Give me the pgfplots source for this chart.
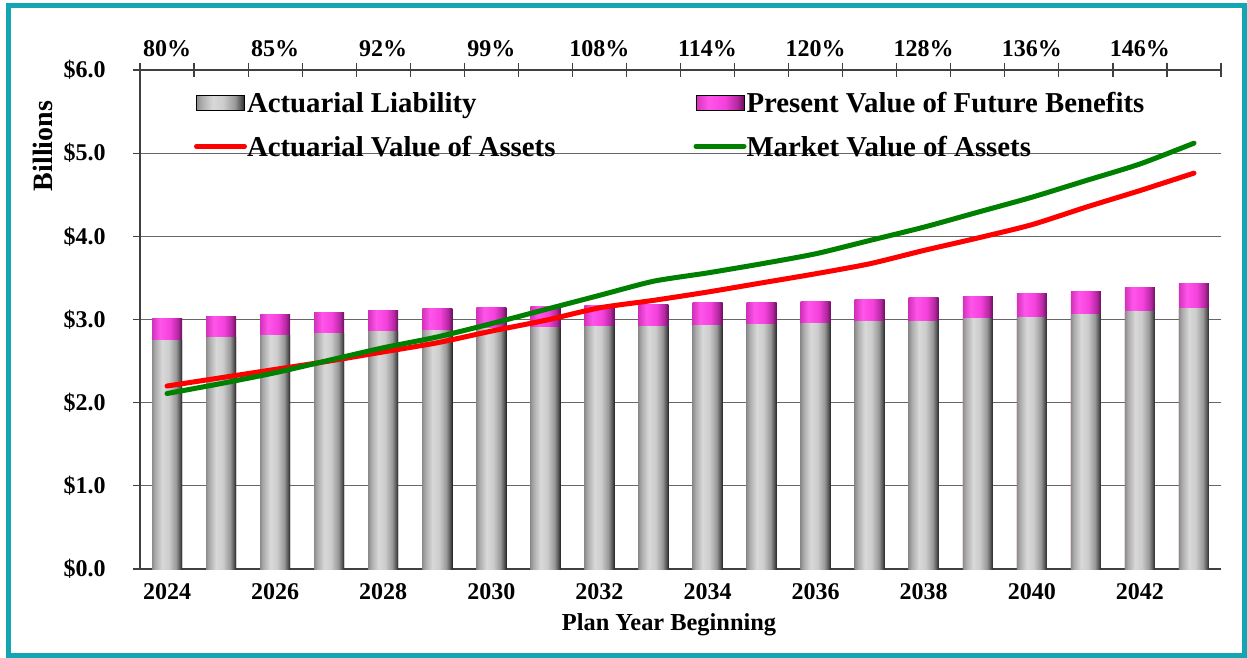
\documentclass[border=0pt]{standalone}
\usepackage{pgfplots}
\usepackage{pgfplotstable}
\pgfplotsset{compat=1.18}
\usepackage{fontspec}
\setmainfont{Liberation Serif}
\definecolor{teal1}{RGB}{20,165,178}
\definecolor{avared}{RGB}{255,0,0}
\definecolor{mvagreen}{RGB}{0,128,0}

\pgfdeclarehorizontalshading{grbar}{100bp}{%
  color(0bp)=(black!45); color(25bp)=(black!45); color(30bp)=(black!33);
  color(42bp)=(black!15); color(53bp)=(black!20); color(65bp)=(black!40);
  color(71bp)=(black!65); color(75bp)=(black!85); color(100bp)=(black!85)}
\pgfdeclarehorizontalshading{mgbar}{100bp}{%
  color(0bp)=(rgb,255:red,210;green,50;blue,185); color(25bp)=(rgb,255:red,210;green,50;blue,185);
  color(38bp)=(rgb,255:red,255;green,85;blue,235); color(55bp)=(rgb,255:red,245;green,65;blue,220);
  color(68bp)=(rgb,255:red,180;green,40;blue,160); color(75bp)=(rgb,255:red,105;green,15;blue,95);
  color(100bp)=(rgb,255:red,105;green,15;blue,95)}

\pgfplotstableread{
idx al pvfb ava mva
0 2.75 3.01 2.20 2.11
1 2.78 3.04 2.30 2.23
2 2.81 3.06 2.40 2.36
3 2.83 3.09 2.50 2.51
4 2.85 3.11 2.61 2.66
5 2.87 3.13 2.72 2.79
6 2.89 3.14 2.86 2.95
7 2.90 3.16 2.99 3.12
8 2.92 3.17 3.14 3.29
9 2.92 3.18 3.23 3.46
10 2.93 3.20 3.33 3.56
11 2.94 3.21 3.44 3.67
12 2.95 3.22 3.55 3.79
13 2.97 3.24 3.67 3.95
14 2.98 3.26 3.83 4.11
15 3.01 3.28 3.98 4.29
16 3.03 3.31 4.14 4.47
17 3.06 3.34 4.35 4.67
18 3.10 3.38 4.55 4.87
19 3.13 3.43 4.76 5.12
}\data

\pgfplotsset{
  barleg/.style={legend image code/.code={\draw[##1] (0pt,-2.4pt) rectangle (24pt,5.1pt);}},
  lineleg/.style={legend image code/.code={\draw[##1] (0pt,1.35pt) -- (24pt,1.35pt);}},
  pvfbstyle/.style={ybar, bar width=15pt, bar shift=0pt, draw=none, shading=mgbar, barleg},
  alstyle/.style={ybar, bar width=15pt, bar shift=0pt, draw=none, shading=grbar, barleg},
  avastyle/.style={avared, line width=2.5pt, line cap=round, smooth, tension=0.4, mark=none, lineleg},
  mvastyle/.style={mvagreen, line width=2.5pt, line cap=round, smooth, tension=0.4, mark=none, lineleg},
}

\begin{document}
\begin{tikzpicture}
\path[use as bounding box] (-70pt,-44.5pt) rectangle (553.5pt,284.5pt);
\draw[teal1, line width=2.5pt] (-65.75pt,-43.25pt) rectangle (552.25pt,281.75pt);
\begin{axis}[
  at={(0pt,0pt)}, anchor=south west,
  scale only axis, width=540.5pt, height=249.5pt,
  xmin=-0.5, xmax=19.5, ymin=0, ymax=6,
  axis x line*=bottom, axis y line*=left,
  axis line style={-, draw=black!75, line width=0.6pt},
  xtick={0,2,4,6,8,10,12,14,16,18},
  xticklabels={2024,2026,2028,2030,2032,2034,2036,2038,2040,2042},
  ytick={0,1,2,3,4,5,6},
  yticklabels={\$0.0,\$1.0,\$2.0,\$3.0,\$4.0,\$5.0,\$6.0},
  ymajorgrids,
  grid style={draw=black!60, line width=0.5pt},
  tick align=outside, major tick length=3.5pt,
  ytick style={draw=black!75, line width=0.6pt},
  xtick style={draw=none},
  tick label style={font=\fontsize{12}{14}\selectfont\bfseries, inner sep=0pt},
  xticklabel style={anchor=base, yshift=-11.65pt},
  yticklabel style={anchor=east, xshift=-13.5pt},
  xlabel={Plan Year Beginning},
  xlabel style={at={(axis description cs:0.4894,0)}, anchor=base, yshift=-30.5pt, inner sep=0pt, font=\fontsize{12.2}{14}\selectfont\bfseries},
  ylabel={Billions},
  ylabel style={at={(axis description cs:-0.0902,0.8477)}, anchor=center, inner sep=0pt, rotate=0, font=\fontsize{14}{16}\selectfont\bfseries},
  legend columns=2, legend cell align=left,
  legend style={draw=none, fill=none, inner sep=0pt, outer sep=0pt,
    at={(axis description cs:0.04995,0.9545)}, anchor=north west,
    font=\fontsize{14.4}{17}\selectfont\bfseries, row sep=8.7pt,
    nodes={inner sep=0pt, text height=10pt, text depth=3pt},
    /tikz/column 1/.style={column sep=0pt},
    /tikz/column 2/.style={column sep=69pt},
    /tikz/column 3/.style={column sep=0pt}},
]
\pgfplotsinvokeforeach{0,...,19}{
  \addplot[pvfbstyle, forget plot, restrict x to domain=#1:#1] table[x=idx, y=pvfb]{\data};
  \addplot[alstyle, forget plot, restrict x to domain=#1:#1] table[x=idx, y=al]{\data};
}
\addlegendimage{alstyle}
\addlegendentry{Actuarial Liability}
\addlegendimage{pvfbstyle}
\addlegendentry{Present Value of Future Benefits}
\addplot[avastyle] table[x=idx, y=ava]{\data};
\addlegendentry{Actuarial Value of Assets}
\addplot[mvastyle] table[x=idx, y=mva]{\data};
\addlegendentry{Market Value of Assets}
\end{axis}
\begin{axis}[
  at={(0pt,0pt)}, anchor=south west,
  scale only axis, width=540.5pt, height=249.5pt,
  xmin=-0.5, xmax=19.5, ymin=0, ymax=6,
  axis x line*=top, axis y line=none,
  axis line style={-, draw=black!75, line width=0.6pt},
  xtick={0,2,4,6,8,10,12,14,16,18},
  xticklabels={80\%,85\%,92\%,99\%,108\%,114\%,120\%,128\%,136\%,146\%},
  minor xtick={-0.5,0.5,...,19.5},
  ytick=\empty,
  tick align=center, major tick length=0pt, minor tick length=7pt,
  minor tick style={draw=black!75, line width=0.6pt},
  tick label style={font=\fontsize{12}{14}\selectfont\bfseries, inner sep=0pt},
  xticklabel style={anchor=base, yshift=6.5pt},
]
\end{axis}
\end{tikzpicture}
\end{document}
